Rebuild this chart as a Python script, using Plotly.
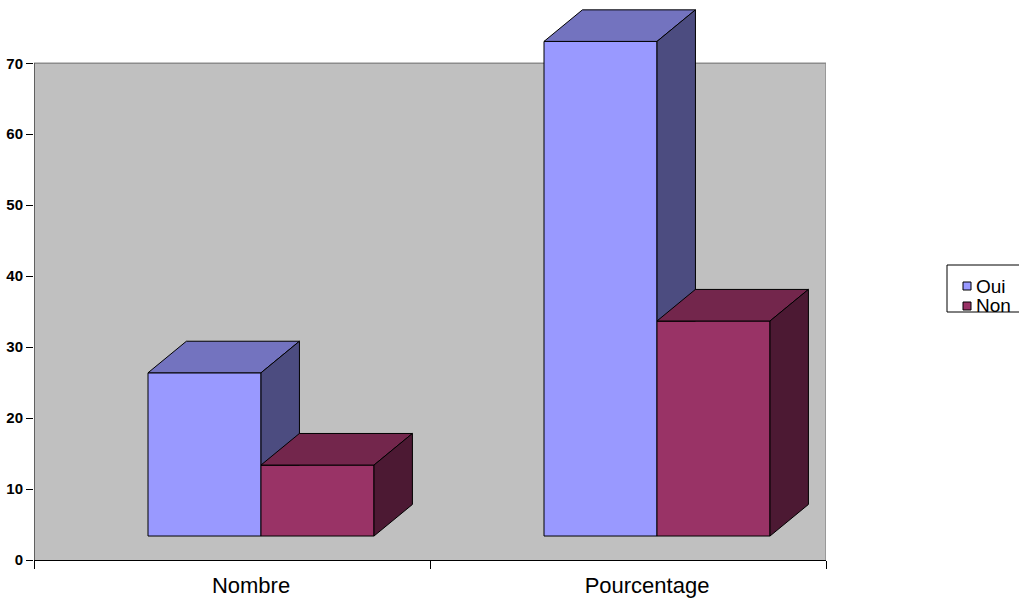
import plotly.graph_objects as go

# Data
categories = ["Nombre", "Pourcentage"]
oui = [23, 69.7]
non = [10, 30.3]
series_names = ["Oui", "Non"]

# 3D column styling (in axis units)
centers = [0.5, 1.5]
bar_w = 0.2854
offsets = {"Oui": -0.2121, "Non": 0.0732}
base = 3.38      # front face floor level
dx, dy = 0.097, 4.45   # depth offset of the back face

colors = {
    "Oui": {"front": "#9999FF", "top": "#7373BF", "side": "#4C4C80"},
    "Non": {"front": "#993366", "top": "#73264C", "side": "#4C1933"},
}
series = {"Oui": oui, "Non": non}

# Plot-area geometry in pixels (used for the key box placement)
L, R, T, B, W, H = 34, 193, 6, 41, 1019, 601
PW, PH = W - L - R, H - T - B


def px(x):
    return (x - L) / PW


def py(y):
    return (H - B - y) / PH


fig = go.Figure()

# Front faces as bars
for name in series_names:
    fig.add_trace(go.Bar(
        x=centers, y=series[name], base=base, width=bar_w,
        offset=offsets[name], name=name, showlegend=False,
        marker=dict(color=colors[name]["front"], line=dict(color="black", width=1)),
        hoverinfo="skip",
    ))


def poly(xs, ys, color):
    fig.add_trace(go.Scatter(
        x=xs + [xs[0]], y=ys + [ys[0]], mode="lines", fill="toself",
        fillcolor=color, line=dict(color="black", width=1),
        showlegend=False, hoverinfo="skip",
    ))


# Top and side faces, back to front
for i, c in enumerate(centers):
    for name, nxt in [("Oui", "Non"), ("Non", None)]:
        v = series[name][i]
        xl = c + offsets[name]
        xr = xl + bar_w
        top = base + v
        poly([xl, xr, xr + dx, xl + dx], [top, top, top + dy, top + dy],
             colors[name]["top"])
        # side face, trimmed where the neighbouring front face covers it
        clip = base + series[nxt][i] if nxt else base
        yl = max(base, clip)
        yr = max(base + dy, clip)
        xs = [xr, xr, xr + dx, xr + dx]
        ys = [yl, top, top + dy, yr]
        if base < clip < base + dy:
            t = (clip - base) / dy
            xs.append(xr + t * dx)
            ys.append(clip)
        poly(xs, ys, colors[name]["side"])

# Back wall
shapes = [
    dict(type="rect", xref="x", yref="y", x0=0, x1=2, y0=0, y1=70,
         fillcolor="#C0C0C0", line=dict(width=0), layer="below"),
    dict(type="line", xref="x", yref="y", x0=0, x1=2, y0=70, y1=70,
         line=dict(color="#8C8C8C", width=1.5), layer="below"),
    dict(type="line", xref="x", yref="y", x0=2, x1=2, y0=0, y1=70,
         line=dict(color="#8C8C8C", width=1.5), layer="below"),
    dict(type="line", xref="x", yref="y", x0=0, x1=0, y0=0, y1=70,
         line=dict(color="black", width=1), layer="above"),
]

# Key: box, colour swatches and labels
annotations = []
shapes.append(dict(type="rect", xref="paper", yref="paper",
                   x0=px(947), x1=px(1030), y0=py(312), y1=py(265),
                   line=dict(color="black", width=1), fillcolor="white"))
for k, name in enumerate(series_names):
    cy = 286 + 20 * k
    shapes.append(dict(type="rect", xref="paper", yref="paper",
                       x0=px(963), x1=px(971), y0=py(cy + 4), y1=py(cy - 4),
                       line=dict(color="black", width=1),
                       fillcolor=colors[name]["front"]))
    annotations.append(dict(xref="paper", yref="paper", x=px(974), y=py(cy),
                            xanchor="left", yanchor="middle", text=name,
                            showarrow=False, font=dict(size=19)))

fig.update_layout(
    width=W, height=H,
    margin=dict(l=L, r=R, t=T, b=B, autoexpand=False),
    paper_bgcolor="white", plot_bgcolor="white",
    barmode="overlay",
    shapes=shapes, annotations=annotations,
    font=dict(family="Liberation Sans, Arial, sans-serif", color="black"),
    showlegend=False,
    xaxis=dict(
        range=[0, 2], tickmode="array", tickvals=centers, ticktext=categories,
        ticks="", showgrid=False, zeroline=False,
        showline=True, linecolor="black", linewidth=1,
        tickfont=dict(size=22), ticklabelshift=19, ticklabelstandoff=6,
        minor=dict(tickmode="array", tickvals=[0, 1, 2], ticks="outside",
                   ticklen=8, tickcolor="black", showgrid=False),
    ),
    yaxis=dict(
        range=[0, PH / 7.096], tickmode="array", tickvals=list(range(0, 80, 10)),
        ticks="outside", ticklen=7, tickcolor="black",
        showgrid=False, zeroline=False, showline=False,
        tickfont=dict(size=15, weight="bold"),
    ),
)

fig.write_html("out.html")
